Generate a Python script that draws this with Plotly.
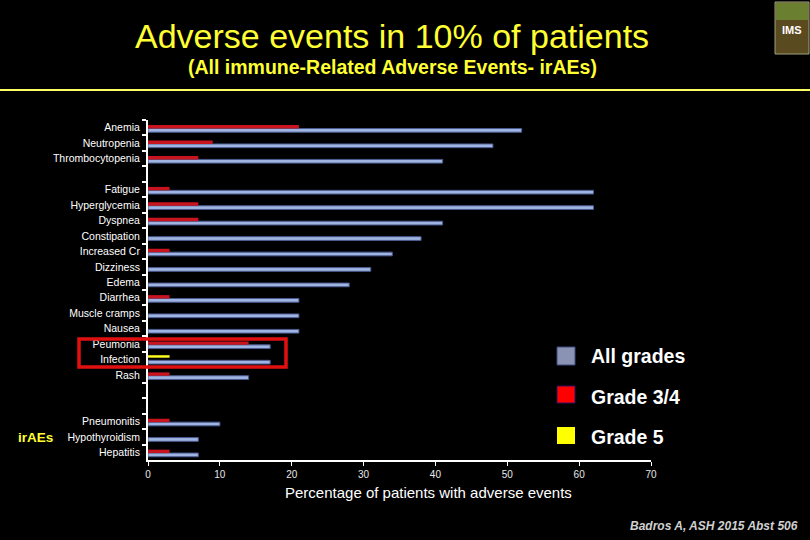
import plotly.graph_objects as go

categories = ["Anemia", "Neutropenia", "Thrombocytopenia", " ", "Fatigue", "Hyperglycemia",
              "Dyspnea", "Constipation", "Increased Cr", "Dizziness", "Edema", "Diarrhea",
              "Muscle cramps", "Nausea", "Peumonia", "Infection", "Rash", "  ", "   ",
              "Pneumonitis", "Hypothyroidism", "Hepatitis"]
all_grades = [52, 48, 41, None, 62, 62, 41, 38, 34, 31, 28, 21, 21, 21, 17, 17, 14,
              None, None, 10, 7, 7]
grade34 = [21, 9, 7, None, 3, 7, 7, None, 3, None, None, 3, None, None, 14, None, 3,
           None, None, 3, None, 3]
grade5 = [None] * 15 + [3] + [None] * 6
x_ticks = [0, 10, 20, 30, 40, 50, 60, 70]

W, H = 810, 540
L, R, T, B = 148, 651, 120, 460


def px(x):
    return (x - L) / (R - L)


def py(y):
    return (B - y) / (B - T)


FONT = "Liberation Sans, Arial, sans-serif"

fig = go.Figure()
fig.add_trace(go.Bar(y=categories, x=all_grades, orientation="h", name="All grades",
                     marker=dict(color="#9fb4e0", line=dict(color="#4a5a90", width=1)),
                     offset=0.05, width=0.24, showlegend=False))
fig.add_trace(go.Bar(y=categories, x=grade34, orientation="h", name="Grade 3/4",
                     marker=dict(color="#c8141e", line=dict(width=0)),
                     offset=-0.17, width=0.22, showlegend=False))
fig.add_trace(go.Bar(y=categories, x=grade5, orientation="h", name="Grade 5",
                     marker=dict(color="#ffff20", line=dict(width=0)),
                     offset=-0.28, width=0.16, showlegend=False))

fig.update_layout(
    width=W, height=H,
    margin=dict(l=L, r=W - R, t=T, b=H - B),
    paper_bgcolor="black", plot_bgcolor="black",
    font=dict(family=FONT, color="white"),
    barmode="overlay",
    xaxis=dict(range=[0, 70], tickvals=x_ticks, ticks="outside", ticklen=4, tickwidth=1,
               tickcolor="white", showline=True, linecolor="white", linewidth=2,
               showgrid=False, zeroline=False, tickfont=dict(size=10, color="#e8e8e8"),
               fixedrange=True),
    yaxis=dict(categoryorder="array", categoryarray=categories, range=[21.5, -0.5],
               tickson="boundaries", ticks="outside", ticklen=4, tickwidth=1.5,
               tickcolor="white", showline=True, linecolor="white", linewidth=2,
               showgrid=False, zeroline=False, tickfont=dict(size=10.5, color="white"),
               ticklabelstandoff=4, fixedrange=True),
)

ann = [
    dict(x=px(392), y=py(36), text="Adverse events in 10% of patients",
         font=dict(size=34, color="#ffff33", family=FONT)),
    dict(x=px(392), y=py(67), text="<b>(All immune-Related Adverse Events- irAEs)</b>",
         font=dict(size=19.5, color="#ffff33", family=FONT)),
    dict(x=px(428), y=py(492), text="Percentage of patients with adverse events",
         font=dict(size=15, color="white", family=FONT)),
    dict(x=px(35), y=py(437), text="<b>irAEs</b>",
         font=dict(size=13.5, color="#ffff33", family=FONT)),
    dict(x=px(589), y=py(356), text="<b>All grades</b>", xanchor="left",
         font=dict(size=19.5, color="white", family=FONT)),
    dict(x=px(589), y=py(397), text="<b>Grade 3/4</b>", xanchor="left",
         font=dict(size=19.5, color="white", family=FONT)),
    dict(x=px(589), y=py(437), text="<b>Grade 5</b>", xanchor="left",
         font=dict(size=19.5, color="white", family=FONT)),
    dict(x=px(800), y=py(526), text="<b><i>Badros A, ASH 2015 Abst 506</i></b>",
         xanchor="right", font=dict(size=12, color="#d0d0d0", family=FONT)),
    dict(x=px(792), y=py(30), text="<b>IMS</b>",
         font=dict(size=11, color="white", family=FONT)),
]
for a in ann:
    a.setdefault("xanchor", "center")
    a.update(xref="paper", yref="paper", showarrow=False, yanchor="middle")
    fig.add_annotation(**a)

shapes = [
    # yellow separator line
    dict(type="line", x0=px(0), x1=px(810), y0=py(90), y1=py(90),
         line=dict(color="#ffff66", width=2)),
    # red highlight box
    dict(type="rect", x0=px(79), x1=px(286), y0=py(339), y1=py(367),
         line=dict(color="#e01010", width=3.5)),
    # legend squares
    dict(type="rect", x0=px(557), x1=px(575), y0=py(347), y1=py(365),
         fillcolor="#8a93b4", line=dict(color="#3a4a80", width=1)),
    dict(type="rect", x0=px(557), x1=px(575), y0=py(386), y1=py(403),
         fillcolor="#ff0000", line=dict(color="#301060", width=1)),
    dict(type="rect", x0=px(557), x1=px(575), y0=py(427), y1=py(444),
         fillcolor="#ffff00", line=dict(width=0)),
    # logo block
    dict(type="rect", x0=px(775), x1=px(809), y0=py(2), y1=py(54),
         fillcolor="#5a4a20", line=dict(color="#a0a080", width=1)),
    dict(type="rect", x0=px(776), x1=px(808), y0=py(3), y1=py(20),
         fillcolor="#6a8030", line=dict(width=0)),
]
for s in shapes:
    s.update(xref="paper", yref="paper")
    fig.add_shape(**s)

fig.write_html("out.html", config={"displayModeBar": False},
               post_script="document.body.style.margin='0';"
                           "document.body.style.background='black';")
